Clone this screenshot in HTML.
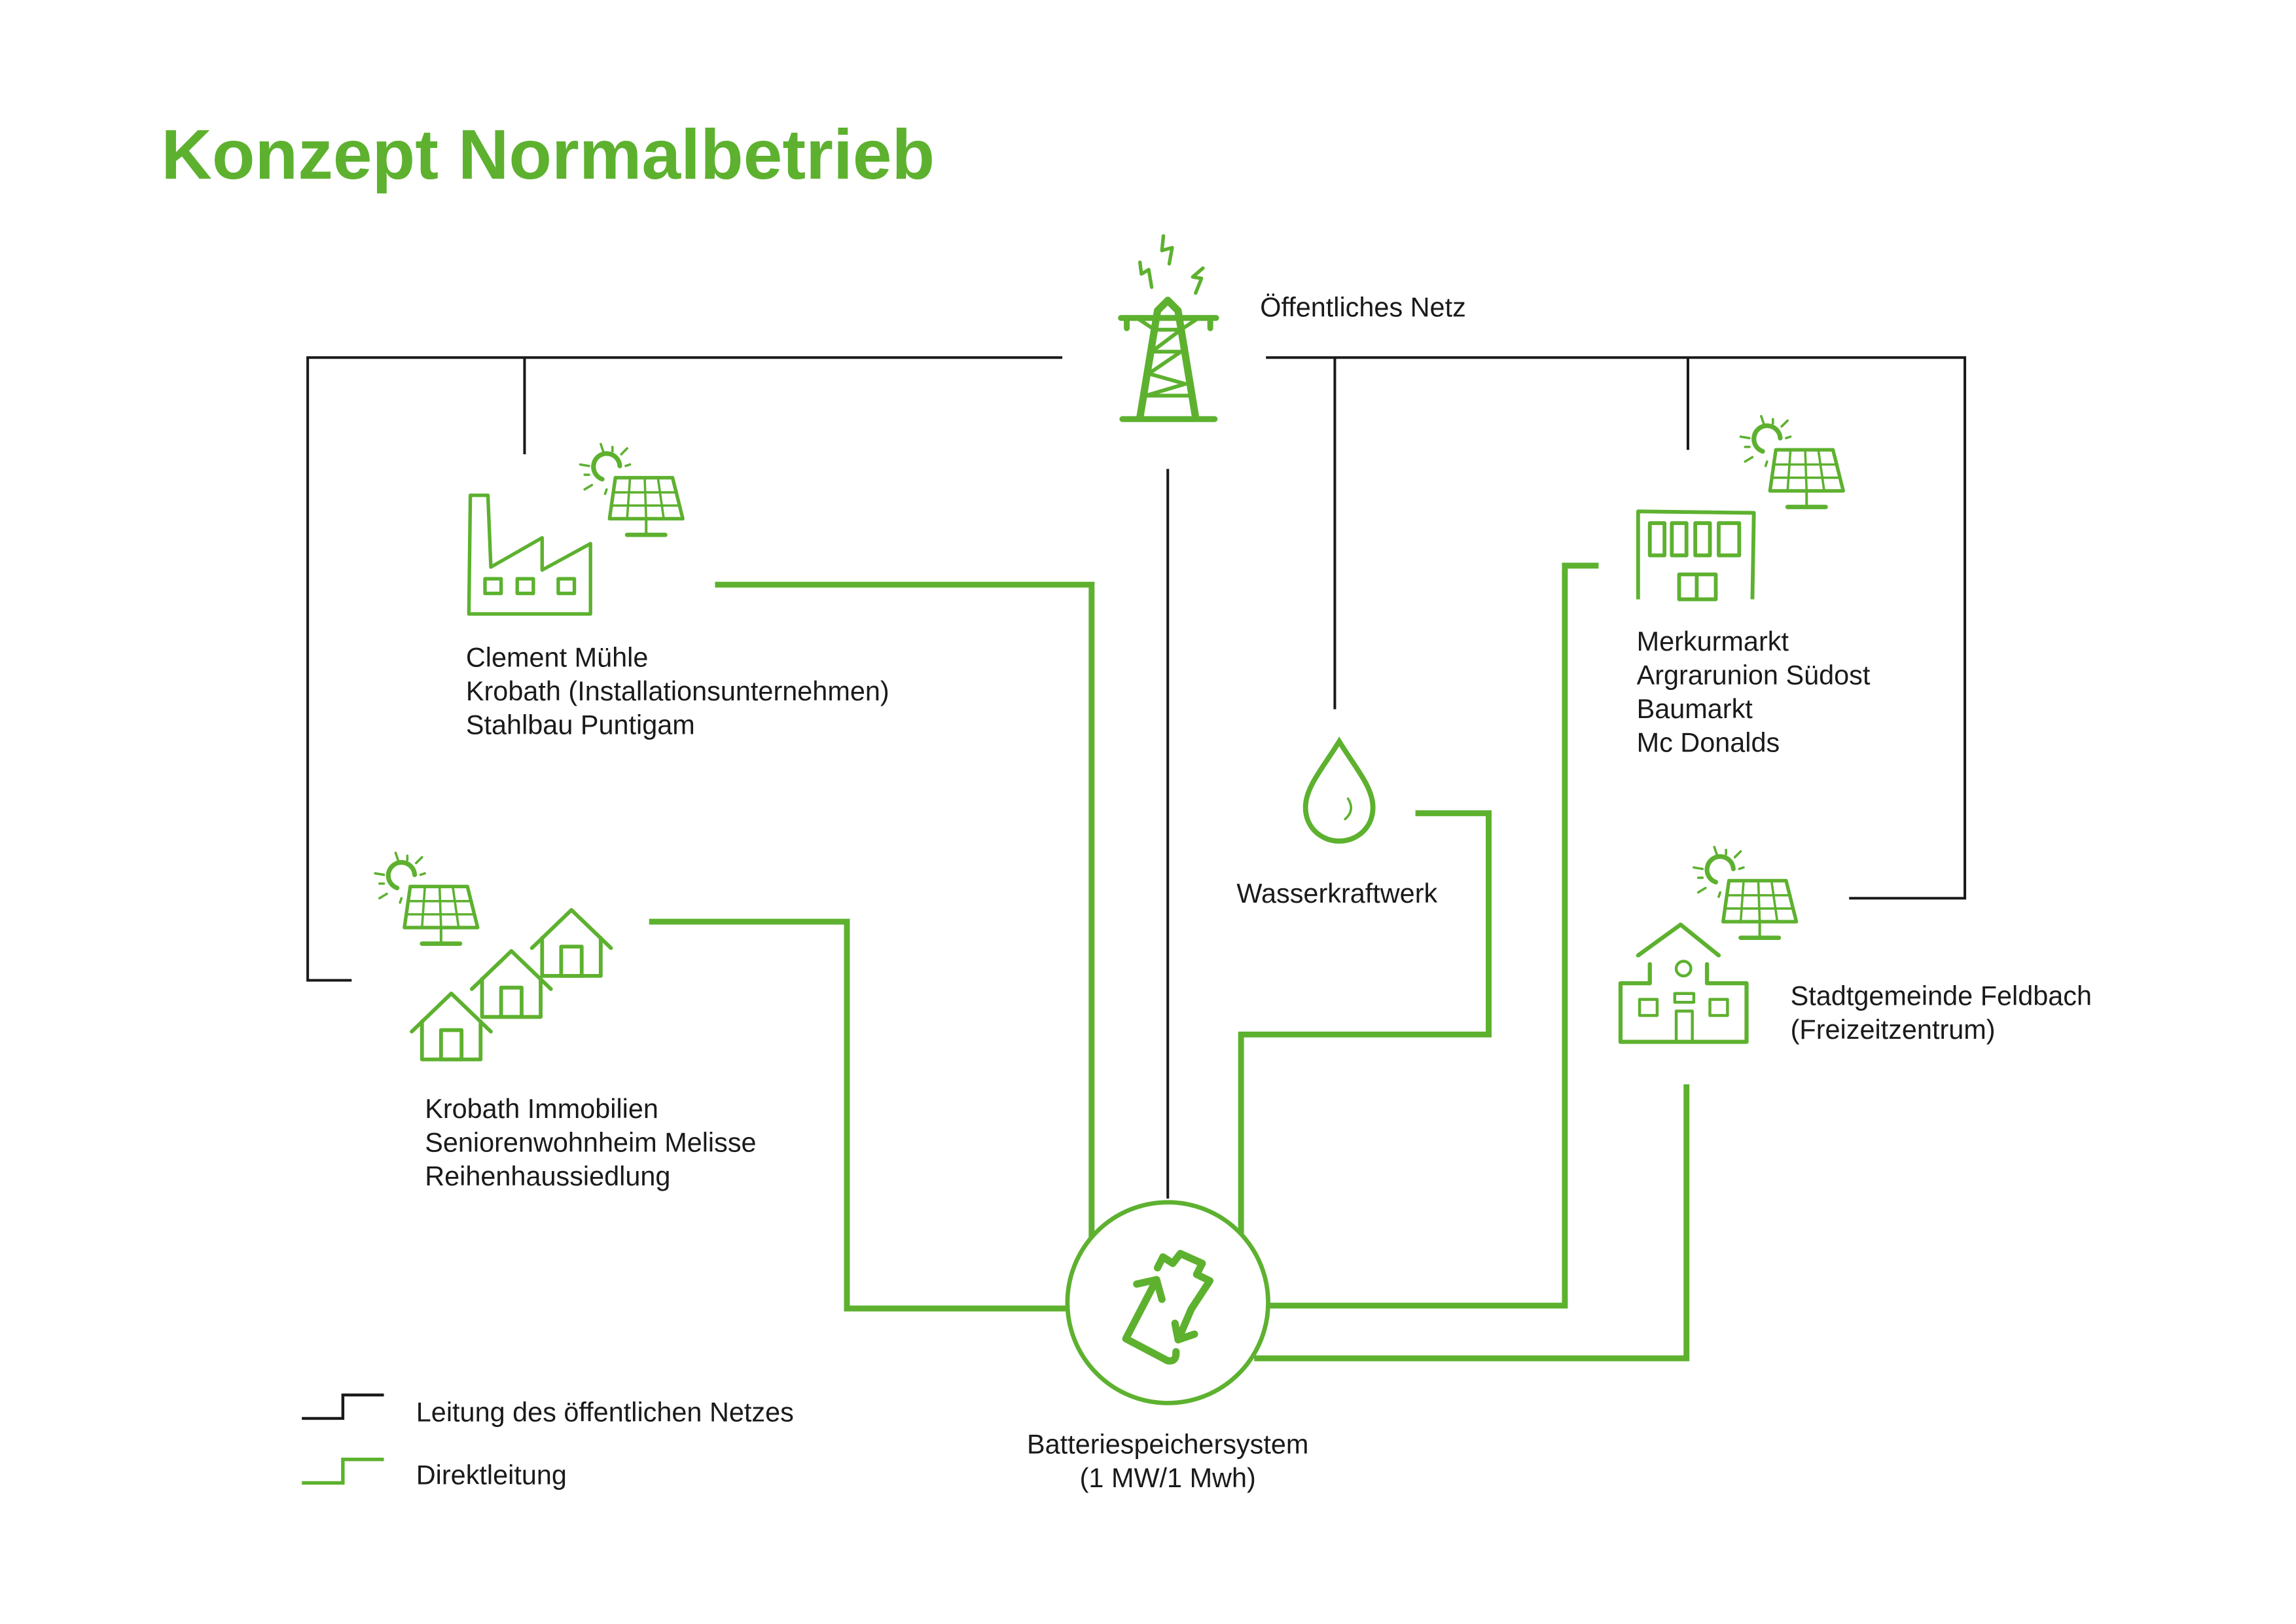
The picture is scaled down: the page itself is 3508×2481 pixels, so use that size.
<!DOCTYPE html>
<html><head><meta charset="utf-8"><style>
html,body{margin:0;padding:0;background:#fff;}
svg{display:block;}
text{font-family:"Liberation Sans",sans-serif;fill:#1a1a1a;}
</style></head><body>
<svg width="3508" height="2481" viewBox="0 0 1567 1108.3" preserveAspectRatio="none" xmlns="http://www.w3.org/2000/svg">
<defs>
<g id="solar" fill="none" stroke="#5db12f" stroke-linecap="round" stroke-linejoin="round">
 <path d="M-5,6 A9,9 0 1 1 7,-3" stroke-width="3.2"/>
 <g stroke-width="1.6">
  <line x1="-6" y1="-18" x2="-4" y2="-12"/><line x1="2" y1="-16" x2="2" y2="-13"/>
  <line x1="12" y1="-15" x2="8" y2="-11"/><line x1="11" y1="-3" x2="14" y2="-4"/>
  <line x1="-20" y1="-4" x2="-14" y2="-3"/><line x1="-17" y1="3" x2="-14" y2="3"/>
  <line x1="-17" y1="13" x2="-12" y2="10"/><line x1="-2" y1="13" x2="-3" y2="16"/>
 </g>
 <path d="M4,5 L43,5 L50,33 L0,33 Z" stroke-width="2.4"/>
 <g stroke-width="1.6">
  <line x1="2.5" y1="15" x2="46" y2="15"/><line x1="1.2" y1="24" x2="48" y2="24"/>
  <line x1="14" y1="5" x2="12" y2="33"/><line x1="24" y1="5" x2="25" y2="33"/>
  <line x1="33" y1="5" x2="37" y2="33"/>
 </g>
 <line x1="25" y1="33" x2="25" y2="43" stroke-width="1.8"/>
 <line x1="12" y1="44" x2="38" y2="44" stroke-width="3"/>
</g>
<g id="house" fill="none" stroke="#5db12f" stroke-width="2.6" stroke-linejoin="round" stroke-linecap="round">
 <path d="M-27,17 L0,-9 L27,17"/>
 <path d="M-20,10 L-20,36 L20,36 L20,10"/>
 <rect x="-7" y="16" width="14" height="20"/>
</g>
</defs>

<text x="110" y="122" style="font-weight:bold;font-size:48px;fill:#5db12f;">Konzept Normalbetrieb</text>

<g fill="none" stroke="#1a1a1a" stroke-width="1.8">
 <polyline points="725,244 210,244 210,669 240,669"/>
 <line x1="358" y1="244" x2="358" y2="310"/>
 <polyline points="864,244 1341,244 1341,613 1262,613"/>
 <line x1="911" y1="244" x2="911" y2="484"/>
 <line x1="1152" y1="244" x2="1152" y2="307"/>
 <line x1="797" y1="320" x2="797" y2="818"/>
</g>

<g fill="none" stroke="#5db12f" stroke-width="4">
 <polyline points="488,399 745,399 745,845"/>
 <polyline points="443,629 578,629 578,893 728,893"/>
 <polyline points="966,555 1016,555 1016,706 847,706 847,842"/>
 <polyline points="1091,386 1068,386 1068,891 866,891"/>
 <polyline points="1151,740 1151,927 856,927"/>
</g>

<circle cx="797" cy="889" r="68.5" fill="#fff" stroke="#5db12f" stroke-width="3"/>
<g fill="none" stroke="#5db12f" stroke-width="5" stroke-linecap="round" stroke-linejoin="round">
 <path d="M790,865.2 L793.7,857.8 L800.4,862.2 L805.6,855.5 L820.5,862.2 L816.7,869.7 L825.7,874.1 L813,893.4 L804.1,914.3"/>
 <path d="M801.9,903.1 L804.1,914.3 L815.2,910.5"/>
 <path d="M802.6,922.5 Q803,930 796.6,928.5 L768.4,913.6 L789.3,873.3"/>
 <path d="M775.8,876.3 L789.3,873.3 L793,886.7"/>
</g>

<g fill="none" stroke="#5db12f" stroke-linecap="round" stroke-linejoin="round">
 <path d="M766,286 L829,286" stroke-width="4"/>
 <path d="M765,217 L830,217" stroke-width="4"/>
 <path d="M769,217 L769,224 M826,217 L826,224" stroke-width="4"/>
 <path d="M778,285 L790,212 L797,205 L804,212 L816,285" stroke-width="5"/>
 <g stroke-width="2.6">
  <path d="M776,217 L788,225 M818,217 L806,225"/>
  <path d="M788,225 L806,225 L786,240 L806,240 L784,255 L809,262 L782,270 L812,270"/>
 </g>
 <g stroke-width="2.4">
  <path d="M778,179 L779,187 L784,184 L786,196"/>
  <path d="M794,161 L793,171 L800,169 L798,180"/>
  <path d="M821,183 L814,189 L820,190 L816,200"/>
 </g>
</g>
<text x="860" y="216" style="font-size:18.5px">Öffentliches Netz</text>

<g fill="none" stroke="#5db12f" stroke-width="2.4" stroke-linejoin="round">
 <path d="M320,419 L321,338 L333,338 L335,387 L370,367 L370,389 L403,371 L403,419 Z"/>
 <rect x="331" y="395" width="11" height="10"/>
 <rect x="353" y="395" width="11" height="10"/>
 <rect x="381" y="395" width="11" height="10"/>
</g>
<use href="#solar" x="416" y="321"/>
<text style="font-size:18.5px"><tspan x="318" y="455">Clement Mühle</tspan><tspan x="318" y="478">Krobath (Installationsunternehmen)</tspan><tspan x="318" y="501">Stahlbau Puntigam</tspan></text>

<use href="#solar" x="276" y="600"/>
<use href="#house" x="390" y="630"/>
<use href="#house" x="349" y="658"/>
<use href="#house" x="308" y="687"/>
<text style="font-size:18.5px"><tspan x="290" y="763">Krobath Immobilien</tspan><tspan x="290" y="786">Seniorenwohnheim Melisse</tspan><tspan x="290" y="809">Reihenhaussiedlung</tspan></text>

<g fill="none" stroke="#5db12f" stroke-linecap="round">
 <path d="M914,506 C903,524 891,537 891,551 C891,565 902,574 914,574 C926,574 937,565 937,551 C937,537 925,524 914,506 Z" stroke-width="3.5"/>
 <path d="M920,545 Q925,553 918,559" stroke-width="1.6"/>
</g>
<text x="844" y="616" style="font-size:18.5px">Wasserkraftwerk</text>

<g fill="none" stroke="#5db12f" stroke-width="2.6" stroke-linejoin="round">
 <path d="M1118,409 L1118,349 L1197,350 L1196,409"/>
 <rect x="1126" y="357" width="10" height="22"/>
 <rect x="1141" y="357" width="10" height="22"/>
 <rect x="1157" y="357" width="10" height="22"/>
 <rect x="1173" y="357" width="14" height="22"/>
 <rect x="1146" y="392" width="25" height="17"/>
 <line x1="1158" y1="392" x2="1158" y2="409"/>
</g>
<use href="#solar" x="1208" y="302"/>
<text style="font-size:18.5px"><tspan x="1117" y="444">Merkurmarkt</tspan><tspan x="1117" y="467">Argrarunion Südost</tspan><tspan x="1117" y="490">Baumarkt</tspan><tspan x="1117" y="513">Mc Donalds</tspan></text>

<use href="#solar" x="1176" y="596"/>
<g fill="none" stroke="#5db12f" stroke-width="2.8" stroke-linejoin="round" stroke-linecap="round">
 <path d="M1118,652 L1147,631 L1173,652"/>
 <path d="M1126,658 L1126,671 L1106,671 L1106,711 L1192,711 L1192,671 L1165,671 L1165,658"/>
 <circle cx="1149" cy="661" r="5" stroke-width="2"/>
 <rect x="1119" y="682" width="12" height="11" stroke-width="2"/>
 <rect x="1167" y="682" width="12" height="11" stroke-width="2"/>
 <rect x="1143" y="678" width="13" height="6" stroke-width="2"/>
 <path d="M1144,711 L1144,690 L1155,690 L1155,711" stroke-width="2"/>
</g>
<text style="font-size:18.5px"><tspan x="1222" y="686">Stadtgemeinde Feldbach</tspan><tspan x="1222" y="709">(Freizeitzentrum)</tspan></text>

<text style="font-size:18.5px" text-anchor="middle"><tspan x="797" y="992">Batteriespeichersystem</tspan><tspan x="797" y="1015">(1 MW/1 Mwh)</tspan></text>

<polyline points="206,968 234,968 234,952 262,952" fill="none" stroke="#1a1a1a" stroke-width="2"/>
<polyline points="206,1012 234,1012 234,996 262,996" fill="none" stroke="#5db12f" stroke-width="2.4"/>
<text x="284" y="970" style="font-size:18.5px">Leitung des öffentlichen Netzes</text>
<text x="284" y="1013" style="font-size:18.5px">Direktleitung</text>
</svg>
</body></html>
